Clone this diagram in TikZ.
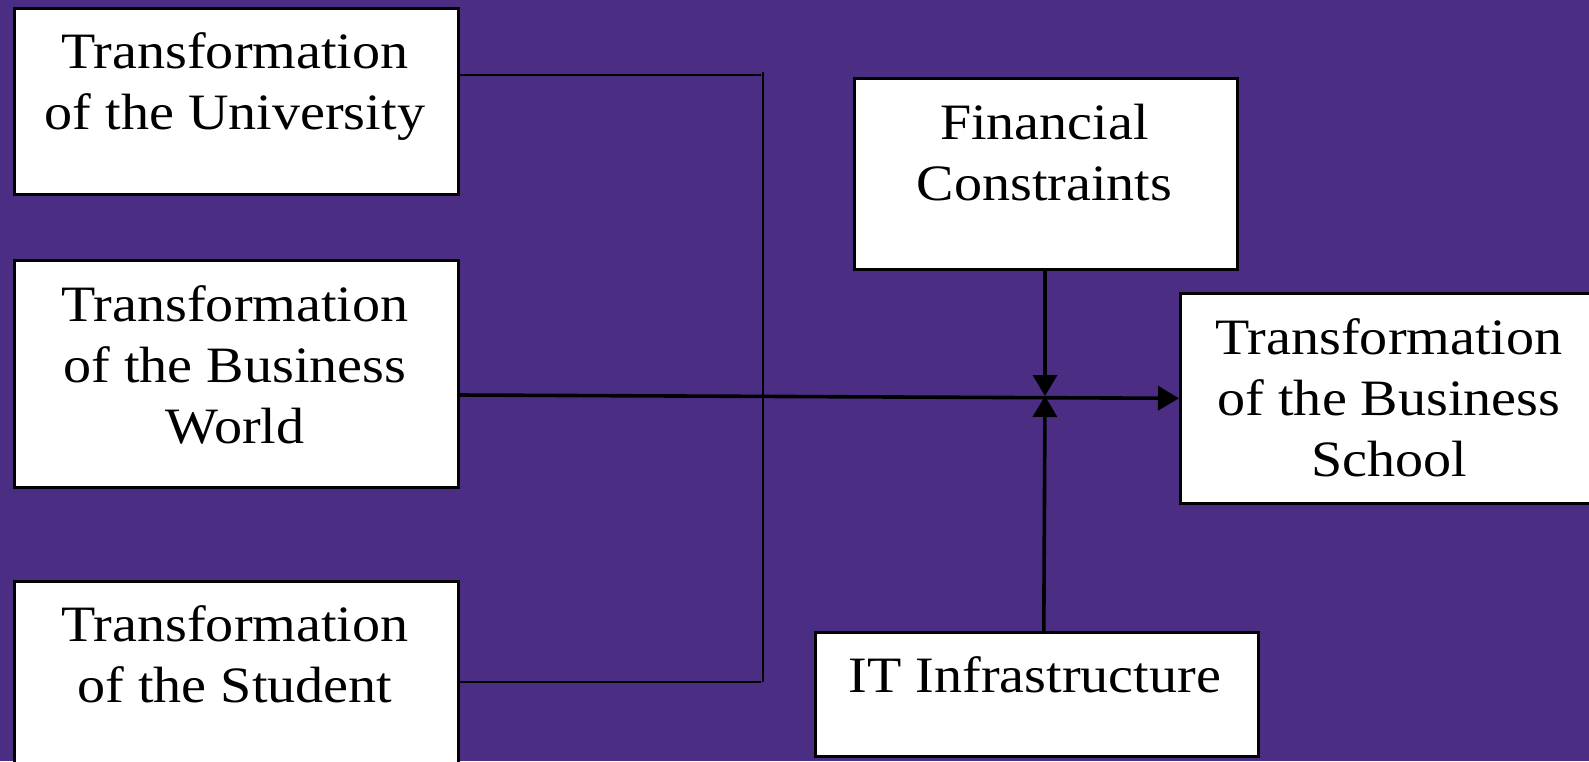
\documentclass[tikz,border=0pt]{standalone}
\usepackage{fontspec}
\setmainfont[FakeStretch=1.1]{Liberation Serif}
\usetikzlibrary{arrows.meta,calc}
\definecolor{bgpurple}{RGB}{75,46,131}
\begin{document}
\begin{tikzpicture}[x=1pt,y=-1pt,
  box/.style={draw=black,line width=2.6pt,fill=white,rectangle,inner sep=0pt,anchor=north west},
  lbl/.style={font=\fontsize{51}{61}\selectfont,align=center,anchor=base,inner sep=0pt},
  thinline/.style={line width=2pt},
  thickline/.style={line width=3.6pt},
  tip/.style={-{Triangle[width=24pt,length=21pt]}}]
\fill[bgpurple] (0,0) rectangle (1589,761);
\useasboundingbox (0,0) rectangle (1589,761);
\clip (0,0) rectangle (1589,761);
% boxes
\node[box,minimum width=444pt,minimum height=186pt] (U) at (13,7) {};
\node[box,minimum width=444pt,minimum height=227pt] (BW) at (13,259) {};
\node[box,minimum width=444pt,minimum height=220pt] (S) at (13,580) {};
\node[box,minimum width=383pt,minimum height=191pt] (FC) at (853,77) {};
\node[box,minimum width=441pt,minimum height=210pt] (BS) at (1179,292) {};
\node[box,minimum width=443pt,minimum height=124pt] (IT) at (814,631) {};
% labels (base = baseline of the last line)
\node[lbl] (tU) at (235,129) {Transformation\\of the University};
\node[lbl] (tBW) at (235,443) {Transformation\\of the Business\\World};
\node[lbl] (tS) at (235,702) {Transformation\\of the Student};
\node[lbl] (tFC) at (1044.5,200) {Financial\\Constraints};
\node[lbl] (tBS) at (1389,476) {Transformation\\of the Business\\School};
\node[lbl] (tIT) at (1035,692) {IT Infrastructure};
% junctions
\coordinate (jU) at (761,75);
\coordinate (jS) at (761,682);
\coordinate (vt) at (763,72);
\coordinate (vb) at (763,682);
\coordinate (hub) at (1045,396);
\coordinate (itTop) at ($(IT.north)+(7,0)$);
% connectors
\draw[thinline] (U.east |- jU) -- (jU);
\draw[thinline] (S.east |- jS) -- (jS);
\draw[thinline] (vt) -- (vb);
\draw[thickline,tip] (BW.east |- 0,395) -- (BS.west);
\draw[thickline,tip] (FC.south -| hub) -- (hub);
\draw[thickline,tip] (itTop) -- (hub);
\end{tikzpicture}
\end{document}
